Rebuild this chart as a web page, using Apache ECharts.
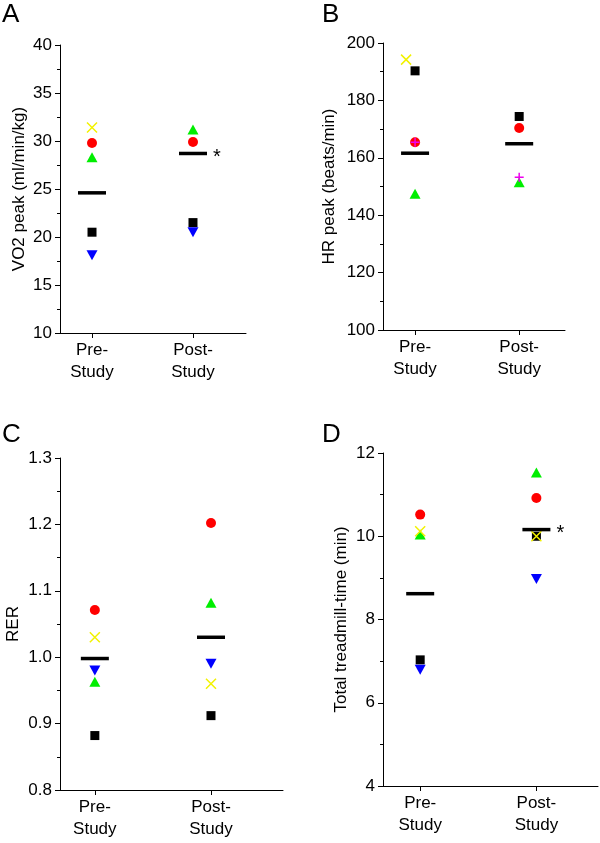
<!DOCTYPE html>
<html>
<head>
<meta charset="utf-8">
<script src="https://cdn.jsdelivr.net/npm/echarts@6/dist/echarts.min.js"></script>
<style>html,body{margin:0;padding:0;background:#fff}#c{width:600px;height:843px}</style>
</head>
<body>
<div id="c"></div>
<script>
// ---- data ----
const groups = ['Pre-\nStudy', 'Post-\nStudy'];

const vo2Square = [20.5, 21.5];
const vo2Circle = [29.8, 29.9];
const vo2Triangle = [28.3, 31.2];
const vo2InvTriangle = [18.1, 20.5];
const vo2Cross = [31.4, null];
const vo2Mean = [24.6, 28.7];
const vo2Sig = ['', '*'];
const vo2Ticks = [10, 40, 5];

const hrSquare = [190.3, 174.4];
const hrCircle = [165.4, 170.4];
const hrTriangle = [147.5, 151.5];
const hrPlus = [165.4, 153.2];
const hrCross = [194.2, null];
const hrMean = [161.6, 164.9];
const hrSig = ['', ''];
const hrTicks = [100, 200, 20];

const rerSquare = [0.882, 0.912];
const rerCircle = [1.071, 1.202];
const rerTriangle = [0.963, 1.082];
const rerInvTriangle = [0.980, 0.990];
const rerCross = [1.030, 0.960];
const rerMean = [0.998, 1.030];
const rerSig = ['', ''];
const rerTicks = [0.8, 1.3, 0.1];

const tmSquare = [7.03, 10.0];
const tmCircle = [10.52, 10.92];
const tmTriangle = [10.04, 11.53];
const tmInvTriangle = [6.79, 8.97];
const tmCross = [10.12, 10.0];
const tmMean = [8.62, 10.16];
const tmSig = ['', '*'];
const tmTicks = [4, 12, 2];

// ---- styling ----
const FONT = '"Liberation Sans", Arial, Helvetica, sans-serif';
const CROSS = 'path://M0,0L10,10M10,0L0,10';
const PLUS = 'path://M5,0L5,10M0,5L10,5';

function pts(arr) {
  const out = [];
  arr.forEach((v, i) => { if (v !== null && v !== undefined) out.push([i, v]); });
  return out;
}

const grids = [], xAxes = [], yAxes = [], series = [];

function panel(p) {
  const k = grids.length;
  grids.push({ left: p.left, top: p.top, width: p.width, height: p.height });
  xAxes.push({
    type: 'value', gridIndex: k, min: p.xmin, max: p.xmax,
    splitLine: { show: false },
    axisLine: { show: true, onZero: false, lineStyle: { color: '#000', width: 1 } },
    axisTick: { show: true, customValues: [0, 1], length: 5, lineStyle: { color: '#000' } },
    axisLabel: {
      customValues: [0, 1], formatter: v => groups[Math.round(v)],
      color: '#000', fontFamily: FONT, fontSize: 17, lineHeight: 22, margin: 6
    }
  });
  yAxes.push({
    type: 'value', gridIndex: k, min: p.ticks[0], max: p.ticks[1], interval: p.ticks[2],
    name: p.name, nameLocation: 'middle', nameGap: p.nameGap,
    nameTextStyle: { color: '#000', fontFamily: FONT, fontSize: 17 },
    splitLine: { show: false },
    axisLine: { show: true, onZero: false, lineStyle: { color: '#000', width: 1 } },
    axisTick: { show: true, length: 5, lineStyle: { color: '#000' } },
    minorTick: { show: true, splitNumber: 2, length: 3, lineStyle: { color: '#000' } },
    axisLabel: {
      color: '#000', fontFamily: FONT, fontSize: 17, margin: 8,
      formatter: p.fmt || (v => String(v))
    }
  });
  const base = { type: 'scatter', xAxisIndex: k, yAxisIndex: k, silent: true, animation: false };
  const st = c => ({ color: c, opacity: 1 });
  if (p.square) series.push(Object.assign({}, base, { data: pts(p.square), symbol: 'rect', symbolSize: 9, itemStyle: st('#000') }));
  if (p.circle) series.push(Object.assign({}, base, { data: pts(p.circle), symbol: 'circle', symbolSize: 10, itemStyle: st('#ff0000') }));
  if (p.inv) series.push(Object.assign({}, base, { data: pts(p.inv), symbol: 'triangle', symbolRotate: 180, symbolSize: [11, 10], itemStyle: st('#0000ff') }));
  if (p.tri) series.push(Object.assign({}, base, { data: pts(p.tri), symbol: 'triangle', symbolSize: [11, 10], itemStyle: st('#00ee00') }));
  if (p.cross) series.push(Object.assign({}, base, { data: pts(p.cross), symbol: CROSS, symbolSize: 10, symbolOffset: p.crossOffset || [0, 0], itemStyle: { color: 'rgba(0,0,0,0)', borderColor: '#f2f200', borderWidth: 1.5, opacity: 1 } }));
  if (p.plus) series.push(Object.assign({}, base, { data: pts(p.plus), symbol: PLUS, symbolSize: 9, itemStyle: { color: 'rgba(0,0,0,0)', borderColor: '#ee00ee', borderWidth: 1.5, opacity: 1 } }));
  series.push(Object.assign({}, base, {
    data: pts(p.mean), symbol: 'rect', symbolSize: [28, 3.5], itemStyle: st('#000'),
    label: {
      show: true, position: 'right', distance: 6, offset: [0, 4],
      formatter: prm => p.sig[prm.dataIndex] || '',
      color: '#000', fontFamily: FONT, fontSize: 20
    }
  }));
}

panel({ left: 60, top: 45, width: 186, height: 288, xmin: -0.317, xmax: 1.525,
  ticks: vo2Ticks, name: 'VO2 peak (ml/min/kg)', nameGap: 32,
  square: vo2Square, circle: vo2Circle, tri: vo2Triangle, inv: vo2InvTriangle, cross: vo2Cross,
  mean: vo2Mean, sig: vo2Sig });
panel({ left: 383, top: 43, width: 182, height: 287, xmin: -0.308, xmax: 1.44,
  ticks: hrTicks, name: 'HR peak (beats/min)', nameGap: 45,
  square: hrSquare, circle: hrCircle, tri: hrTriangle, plus: hrPlus, cross: hrCross, crossOffset: [-9, 0],
  mean: hrMean, sig: hrSig });
panel({ left: 60, top: 458, width: 223, height: 332, xmin: -0.30, xmax: 1.62,
  ticks: rerTicks, name: 'RER', nameGap: 38, fmt: v => v.toFixed(1),
  square: rerSquare, circle: rerCircle, tri: rerTriangle, inv: rerInvTriangle, cross: rerCross,
  mean: rerMean, sig: rerSig });
panel({ left: 383, top: 453, width: 215, height: 333, xmin: -0.32, xmax: 1.53,
  ticks: tmTicks, name: 'Total treadmill-time (min)', nameGap: 33,
  square: tmSquare, circle: tmCircle, tri: tmTriangle, inv: tmInvTriangle, cross: tmCross,
  mean: tmMean, sig: tmSig });

const letterStyle = { color: '#000', fontFamily: FONT, fontSize: 26, fontWeight: 'normal' };
const chart = echarts.init(document.getElementById('c'), null, { renderer: 'canvas' });
chart.setOption({
  backgroundColor: '#fff',
  animation: false,
  title: [
    { text: 'A', left: 2, top: 2, textStyle: letterStyle, padding: 0 },
    { text: 'B', left: 322, top: 2, textStyle: letterStyle, padding: 0 },
    { text: 'C', left: 2, top: 422, textStyle: letterStyle, padding: 0 },
    { text: 'D', left: 322, top: 422, textStyle: letterStyle, padding: 0 }
  ],
  grid: grids, xAxis: xAxes, yAxis: yAxes, series: series
});
</script>
</body>
</html>
